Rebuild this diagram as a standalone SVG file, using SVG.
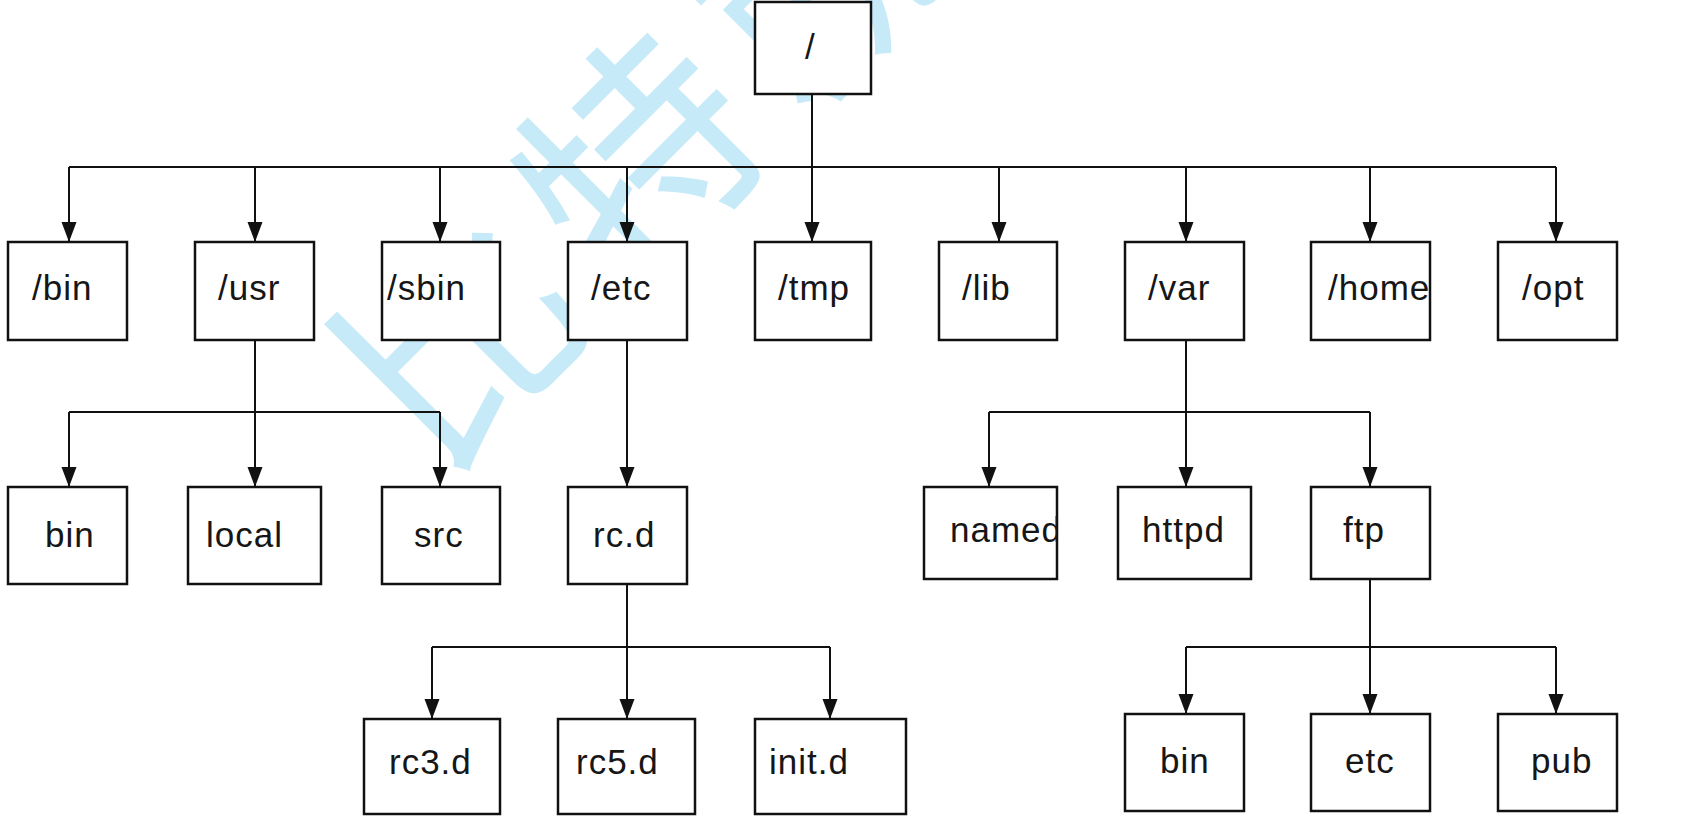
<svg xmlns="http://www.w3.org/2000/svg" width="1683" height="819" viewBox="0 0 1683 819">
<style>
.box{fill:#fff;stroke:#111;stroke-width:2.5}
.lbl{font-family:"Liberation Sans",Arial,sans-serif;font-size:35px;fill:#161616;letter-spacing:1px}
.wire{fill:none;stroke:#111;stroke-width:2}
.wm{font-family:"Noto Sans CJK SC",sans-serif;font-size:230px;fill:#c6eaf8;font-weight:400}
</style>
<defs>
<marker id="arr" viewBox="0 -8 20 16" markerWidth="20" markerHeight="16" refX="20" refY="0" orient="auto" markerUnits="userSpaceOnUse">
<path d="M0,-7.5 L20,0 L0,7.5 z" fill="#111"/>
</marker>
<clipPath id="clipNamed"><rect x="924" y="487" width="133" height="92"/></clipPath>
</defs>
<rect width="1683" height="819" fill="#fff"/>
<g id="watermark">
<text class="wm" transform="translate(438,480) rotate(-45)">比</text>
<text class="wm" transform="translate(618,300) rotate(-45)">特</text>
<text class="wm" transform="translate(798,120) rotate(-45)">就</text>
</g>
<g id="connectors">
<path class="wire" d="M812,94 V242" marker-end="url(#arr)"/>
<path class="wire" d="M69,167 H1556"/>
<path class="wire" d="M69,167 V242" marker-end="url(#arr)"/>
<path class="wire" d="M255,167 V242" marker-end="url(#arr)"/>
<path class="wire" d="M440,167 V242" marker-end="url(#arr)"/>
<path class="wire" d="M627,167 V242" marker-end="url(#arr)"/>
<path class="wire" d="M999,167 V242" marker-end="url(#arr)"/>
<path class="wire" d="M1186,167 V242" marker-end="url(#arr)"/>
<path class="wire" d="M1370,167 V242" marker-end="url(#arr)"/>
<path class="wire" d="M1556,167 V242" marker-end="url(#arr)"/>
<path class="wire" d="M255,340 V487" marker-end="url(#arr)"/>
<path class="wire" d="M69,412 H440"/>
<path class="wire" d="M69,412 V487" marker-end="url(#arr)"/>
<path class="wire" d="M440,412 V487" marker-end="url(#arr)"/>
<path class="wire" d="M627,340 V487" marker-end="url(#arr)"/>
<path class="wire" d="M627,584 V719" marker-end="url(#arr)"/>
<path class="wire" d="M432,647 H830"/>
<path class="wire" d="M432,647 V719" marker-end="url(#arr)"/>
<path class="wire" d="M830,647 V719" marker-end="url(#arr)"/>
<path class="wire" d="M1186,340 V487" marker-end="url(#arr)"/>
<path class="wire" d="M989,412 H1370"/>
<path class="wire" d="M989,412 V487" marker-end="url(#arr)"/>
<path class="wire" d="M1370,412 V487" marker-end="url(#arr)"/>
<path class="wire" d="M1370,579 V714" marker-end="url(#arr)"/>
<path class="wire" d="M1186,647 H1556"/>
<path class="wire" d="M1186,647 V714" marker-end="url(#arr)"/>
<path class="wire" d="M1556,647 V714" marker-end="url(#arr)"/>
</g>
<g id="root"><rect class="box" x="755" y="2" width="116" height="92"/><text class="lbl" x="805" y="59">/</text></g>
<g id="n-bin"><rect class="box" x="8" y="242" width="119" height="98"/><text class="lbl" x="32" y="300">/bin</text></g>
<g id="n-usr"><rect class="box" x="195" y="242" width="119" height="98"/><text class="lbl" x="218" y="300">/usr</text></g>
<g id="n-sbin"><rect class="box" x="382" y="242" width="118" height="98"/><text class="lbl" x="387" y="300">/sbin</text></g>
<g id="n-etc"><rect class="box" x="568" y="242" width="119" height="98"/><text class="lbl" x="591" y="300">/etc</text></g>
<g id="n-tmp"><rect class="box" x="755" y="242" width="116" height="98"/><text class="lbl" x="778" y="300">/tmp</text></g>
<g id="n-lib"><rect class="box" x="939" y="242" width="118" height="98"/><text class="lbl" x="962" y="300">/lib</text></g>
<g id="n-var"><rect class="box" x="1125" y="242" width="119" height="98"/><text class="lbl" x="1148" y="300">/var</text></g>
<g id="n-home"><rect class="box" x="1311" y="242" width="119" height="98"/><text class="lbl" x="1328" y="300">/home</text></g>
<g id="n-opt"><rect class="box" x="1498" y="242" width="119" height="98"/><text class="lbl" x="1522" y="300">/opt</text></g>
<g id="n-usr-bin"><rect class="box" x="8" y="487" width="119" height="97"/><text class="lbl" x="45" y="547">bin</text></g>
<g id="n-usr-local"><rect class="box" x="188" y="487" width="133" height="97"/><text class="lbl" x="206" y="547">local</text></g>
<g id="n-usr-src"><rect class="box" x="382" y="487" width="118" height="97"/><text class="lbl" x="414" y="547">src</text></g>
<g id="n-rcd"><rect class="box" x="568" y="487" width="119" height="97"/><text class="lbl" x="593" y="547">rc.d</text></g>
<g id="n-named"><rect class="box" x="924" y="487" width="133" height="92"/><text class="lbl" x="950" y="542" clip-path="url(#clipNamed)">named</text></g>
<g id="n-httpd"><rect class="box" x="1118" y="487" width="133" height="92"/><text class="lbl" x="1142" y="542">httpd</text></g>
<g id="n-ftp"><rect class="box" x="1311" y="487" width="119" height="92"/><text class="lbl" x="1343" y="542">ftp</text></g>
<g id="n-rc3d"><rect class="box" x="364" y="719" width="136" height="95"/><text class="lbl" x="389" y="774">rc3.d</text></g>
<g id="n-rc5d"><rect class="box" x="558" y="719" width="137" height="95"/><text class="lbl" x="576" y="774">rc5.d</text></g>
<g id="n-initd"><rect class="box" x="755" y="719" width="151" height="95"/><text class="lbl" x="769" y="774">init.d</text></g>
<g id="n-ftp-bin"><rect class="box" x="1125" y="714" width="119" height="97"/><text class="lbl" x="1160" y="773">bin</text></g>
<g id="n-ftp-etc"><rect class="box" x="1311" y="714" width="119" height="97"/><text class="lbl" x="1345" y="773">etc</text></g>
<g id="n-ftp-pub"><rect class="box" x="1498" y="714" width="119" height="97"/><text class="lbl" x="1531" y="773">pub</text></g>
</svg>
